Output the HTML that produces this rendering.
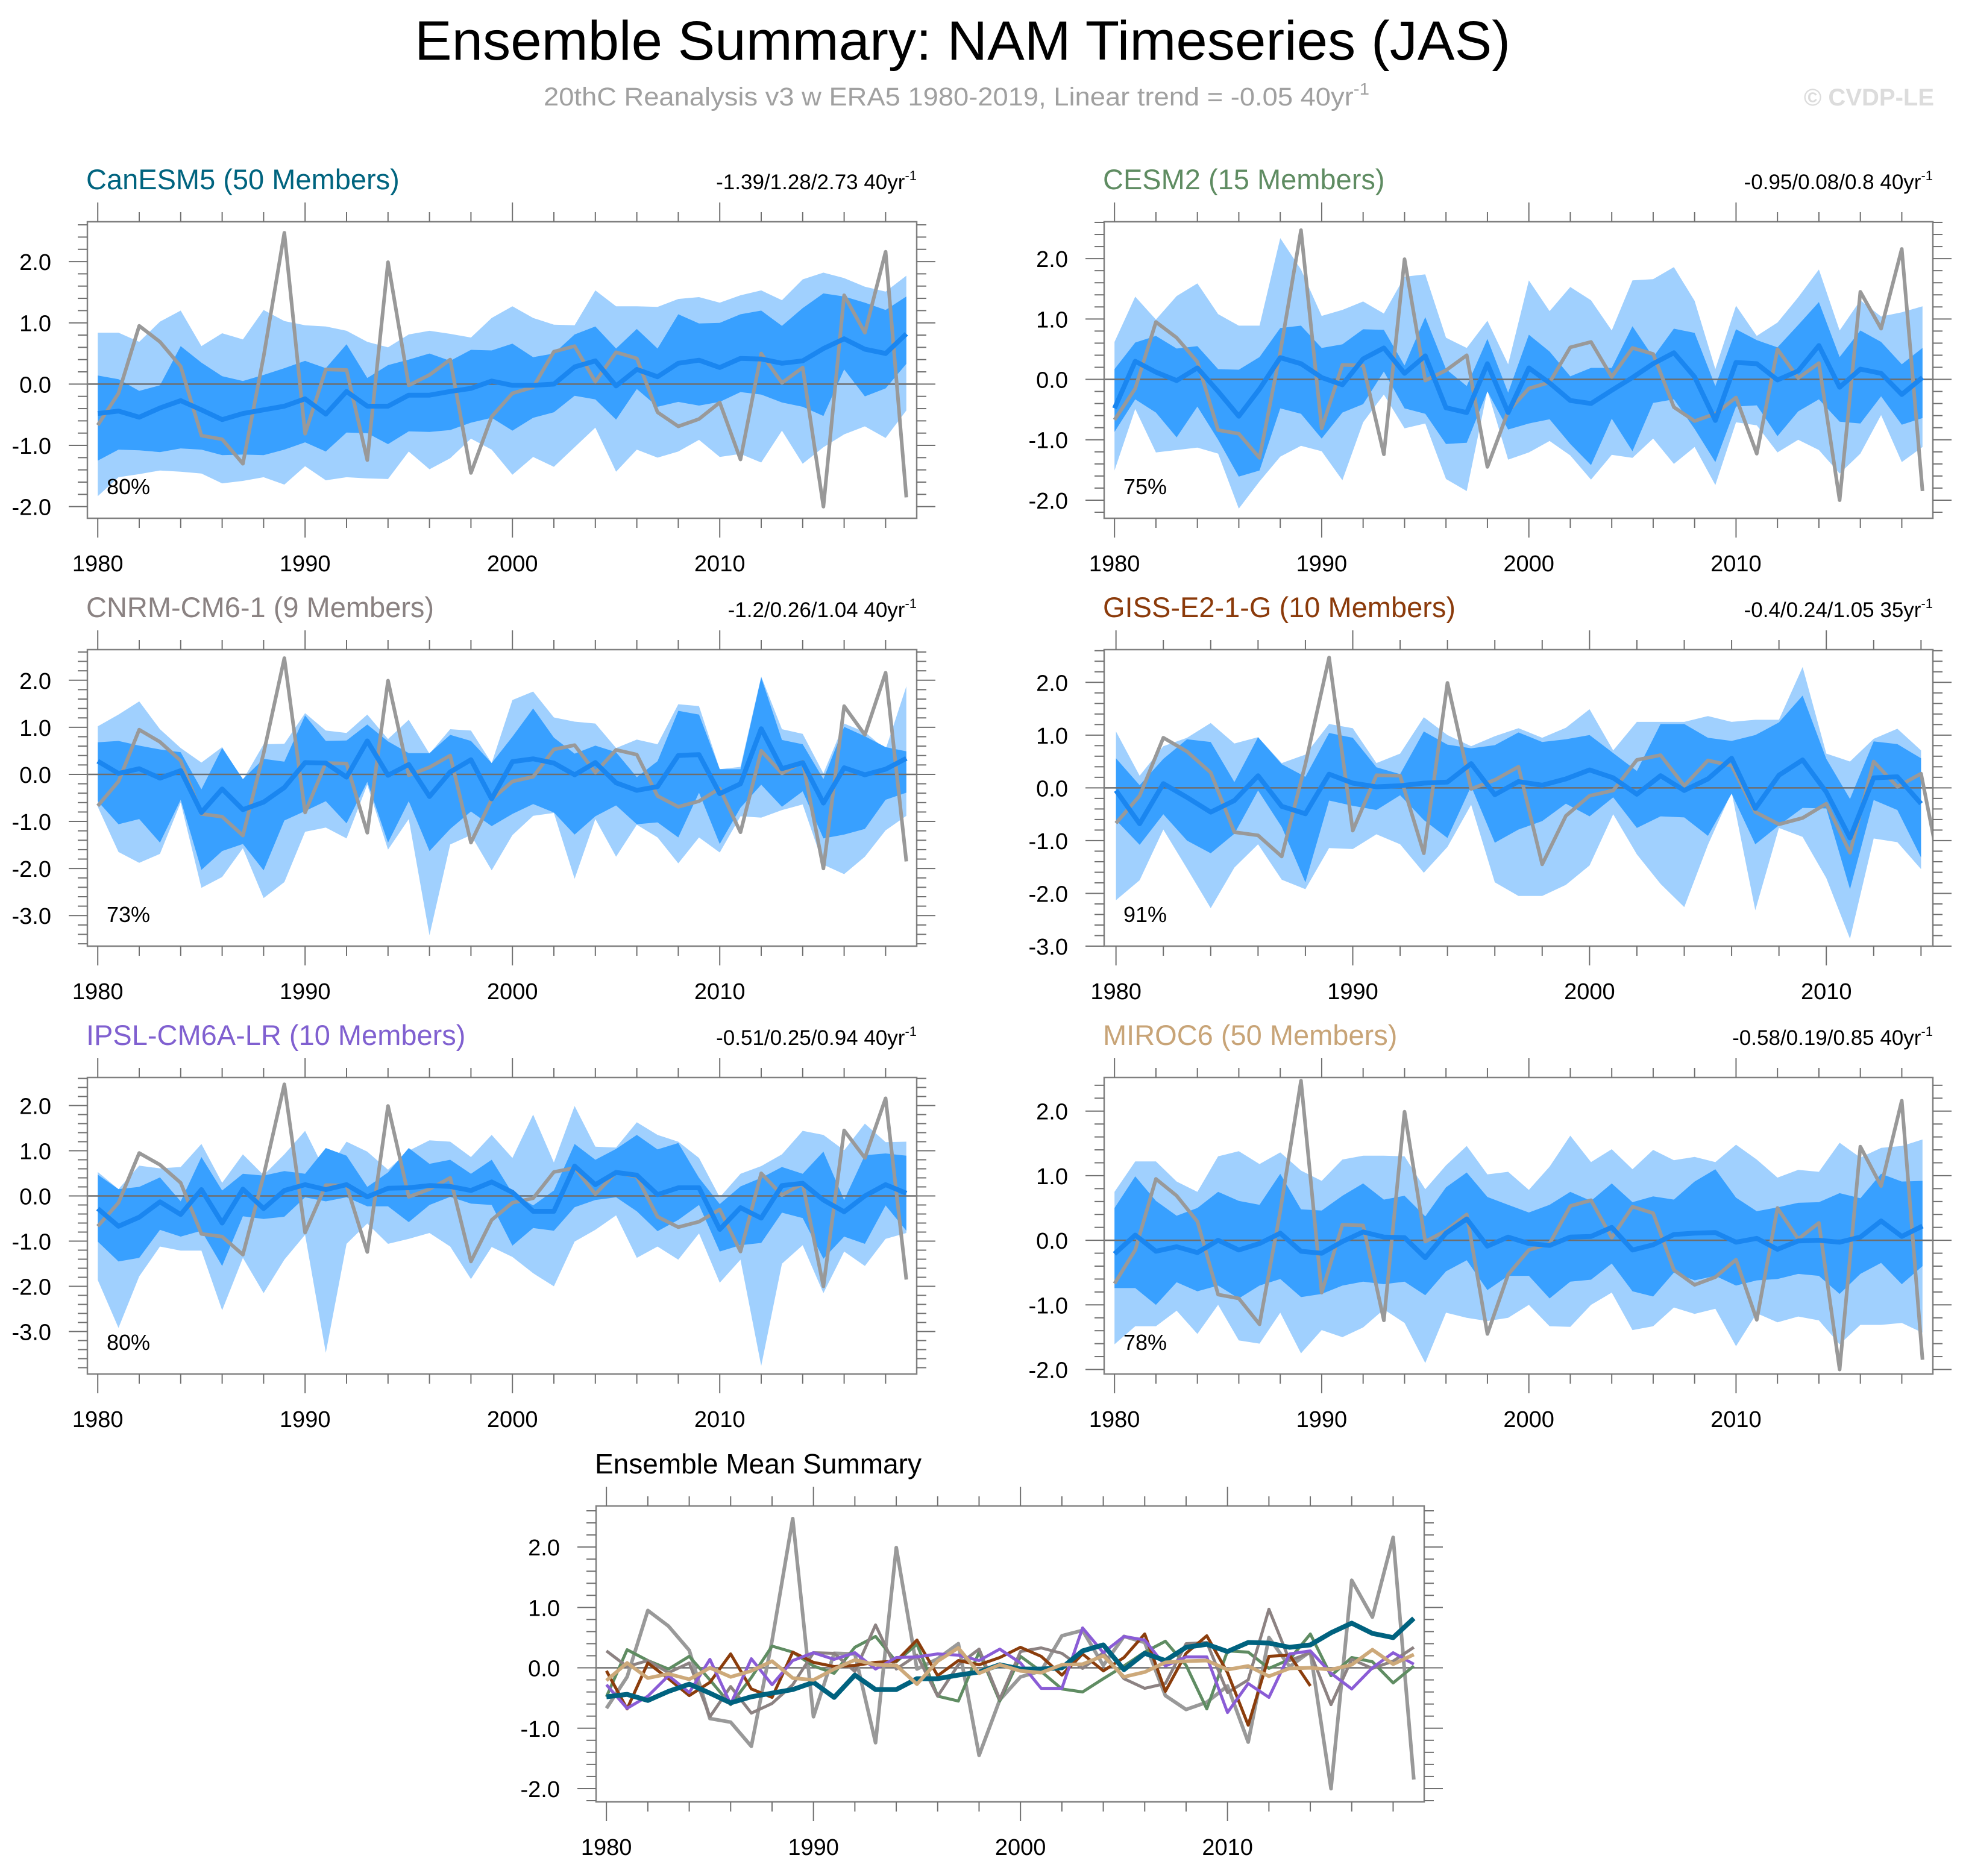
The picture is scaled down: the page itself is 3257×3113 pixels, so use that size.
<!DOCTYPE html>
<html><head><meta charset="utf-8"><style>
html,body{margin:0;padding:0;background:#fff;}
svg{display:block;font-family:"Liberation Sans",sans-serif;}
</style></head><body>
<svg id="chart" width="3257" height="3113" viewBox="0 0 3257 3113" xmlns="http://www.w3.org/2000/svg">
<text x="1597" y="99" font-size="92" text-anchor="middle" textLength="1818" lengthAdjust="spacingAndGlyphs" fill="#000">Ensemble Summary: NAM Timeseries (JAS)</text>
<text x="902" y="175" font-size="43" fill="#a0a0a0" textLength="1370" lengthAdjust="spacingAndGlyphs">20thC Reanalysis v3 w ERA5 1980-2019, Linear trend = -0.05 40yr<tspan dy="-18" font-size="28">-1</tspan></text>
<text x="3209" y="175" font-size="40" font-weight="bold" fill="#dcdcdc" text-anchor="end">© CVDP-LE</text>
<g id="panels"></g>
</svg>
<script>
const years = [1980,1981,1982,1983,1984,1985,1986,1987,1988,1989,1990,1991,1992,1993,1994,1995,1996,1997,1998,1999,2000,2001,2002,2003,2004,2005,2006,2007,2008,2009,2010,2011,2012,2013,2014,2015,2016,2017,2018,2019];
const obs = [-0.67,-0.15,0.95,0.69,0.29,-0.84,-0.90,-1.30,0.45,2.47,-0.81,0.24,0.23,-1.24,1.99,-0.02,0.15,0.40,-1.45,-0.53,-0.15,-0.05,0.53,0.62,0.04,0.52,0.42,-0.46,-0.69,-0.57,-0.30,-1.23,0.50,0.02,0.27,-2.00,1.45,0.84,2.16,-1.85];

const canesmMean = [-0.48,-0.44,-0.54,-0.39,-0.27,-0.42,-0.58,-0.48,-0.42,-0.36,-0.24,-0.49,-0.12,-0.36,-0.36,-0.18,-0.18,-0.12,-0.07,0.05,-0.02,-0.02,0.00,0.28,0.38,-0.03,0.24,0.12,0.34,0.39,0.27,0.42,0.41,0.34,0.38,0.58,0.74,0.57,0.50,0.82];
const canesmInHi = [0.14,0.08,-0.11,-0.02,0.62,0.35,0.13,0.05,0.15,0.26,0.38,0.26,0.65,0.10,0.31,0.40,0.50,0.38,0.56,0.55,0.66,0.44,0.50,0.81,0.94,0.58,0.90,0.58,1.14,0.99,1.00,1.14,1.20,0.95,1.24,1.48,1.43,1.33,1.21,1.43];
const canesmInLo = [-1.25,-1.07,-1.08,-1.11,-1.05,-1.07,-1.16,-1.15,-1.16,-1.07,-0.95,-1.10,-0.79,-0.80,-0.98,-0.77,-0.78,-0.75,-0.63,-0.55,-0.76,-0.55,-0.46,-0.19,-0.25,-0.58,-0.08,-0.37,-0.29,-0.35,-0.29,-0.13,-0.17,-0.30,-0.37,-0.52,0.24,-0.20,-0.07,0.33];
const canesmOutHi = [0.84,0.84,0.69,1.02,1.20,0.62,0.83,0.73,1.21,1.03,0.96,0.94,0.87,0.69,0.60,0.81,0.87,0.82,0.76,1.08,1.27,1.08,0.97,0.96,1.53,1.27,1.27,1.26,1.39,1.42,1.33,1.45,1.53,1.37,1.71,1.82,1.73,1.59,1.51,1.77];
const canesmOutLo = [-1.83,-1.52,-1.47,-1.41,-1.43,-1.46,-1.62,-1.58,-1.52,-1.64,-1.34,-1.57,-1.52,-1.54,-1.55,-1.10,-1.39,-1.21,-0.89,-1.07,-1.48,-1.19,-1.35,-1.03,-0.71,-1.43,-1.07,-1.20,-1.10,-0.91,-1.19,-1.14,-1.28,-0.76,-1.30,-1.03,-0.82,-0.69,-0.88,-0.43];

const cesmMean = [-0.48,0.30,0.12,-0.02,0.19,-0.20,-0.61,-0.16,0.36,0.26,0.03,-0.09,0.34,0.52,0.10,0.39,-0.47,-0.55,0.26,-0.55,0.19,-0.06,-0.35,-0.40,-0.18,0.03,0.26,0.44,0.04,-0.68,0.28,0.26,-0.01,0.14,0.56,-0.13,0.17,0.10,-0.25,0.03];
const cesmInHi = [0.17,0.61,0.72,0.51,0.55,0.17,0.16,0.37,0.85,0.89,0.52,0.58,0.83,0.82,0.23,1.03,0.17,-0.11,0.67,-0.22,0.74,0.46,0.05,0.19,0.19,0.88,0.37,0.84,0.77,-0.11,0.83,0.65,0.53,0.90,1.28,0.37,0.81,0.62,0.25,0.52];
const cesmInLo = [-0.87,-0.33,-0.55,-0.96,-0.45,-1.00,-1.61,-1.51,-0.48,-0.57,-0.98,-0.55,-0.41,0.13,-0.48,-0.57,-1.07,-1.05,-0.20,-0.83,-0.73,-0.66,-1.07,-1.42,-0.65,-1.19,-0.39,-0.33,-0.82,-1.37,-0.45,-0.43,-0.94,-0.53,-0.33,-0.70,-0.73,-0.28,-0.75,-0.64];
const cesmOutHi = [0.62,1.37,0.99,1.38,1.59,1.08,0.89,0.89,2.34,1.82,1.05,1.15,1.29,1.09,1.70,1.74,0.69,0.52,0.97,0.25,1.64,1.13,1.53,1.31,0.81,1.64,1.66,1.86,1.30,0.17,1.22,0.72,0.94,1.36,1.82,0.81,1.31,1.04,1.11,1.21];
const cesmOutLo = [-1.51,-0.49,-1.21,-1.17,-1.13,-1.23,-2.14,-1.69,-1.28,-1.10,-1.19,-1.67,-0.71,-0.25,-0.81,-0.73,-1.65,-1.85,-0.18,-1.33,-1.21,-1.02,-1.26,-1.66,-1.25,-1.30,-0.98,-1.40,-1.12,-1.75,-0.71,-0.76,-1.21,-1.00,-1.17,-1.56,-1.23,-0.59,-1.37,-1.12];

const cnrmMean = [0.28,0.02,0.12,-0.08,0.08,-0.81,-0.31,-0.75,-0.59,-0.28,0.25,0.24,-0.06,0.71,-0.02,0.21,-0.47,0.05,0.31,-0.52,0.27,0.33,0.24,-0.01,0.25,-0.18,-0.34,-0.26,0.40,0.42,-0.41,-0.20,0.97,0.12,0.25,-0.61,0.14,-0.01,0.11,0.34];
const cnrmInHi = [0.68,0.71,0.61,0.53,0.47,-0.32,0.56,-0.10,0.33,0.27,1.25,0.71,0.72,1.06,0.70,0.45,0.45,0.84,0.71,0.24,0.80,1.40,0.78,0.44,0.61,0.47,-0.06,0.28,1.35,1.27,0.11,0.11,2.06,0.73,0.64,-0.10,1.01,0.81,0.58,0.49];
const cnrmInLo = [-0.57,-1.06,-0.95,-1.45,-0.54,-2.03,-1.63,-1.48,-2.04,-0.98,-0.78,-0.57,-1.04,-0.16,-1.45,-0.57,-1.63,-1.16,-0.79,-1.10,-0.84,-0.63,-0.81,-1.28,-0.89,-0.66,-1.06,-1.02,-1.34,-0.39,-1.48,-0.71,-0.22,-0.69,-0.36,-1.36,-1.28,-1.16,-0.54,-0.39];
const cnrmOutHi = [1.02,1.27,1.55,0.96,0.56,0.25,0.58,-0.12,0.64,0.65,1.30,0.93,0.88,1.27,0.75,1.16,0.44,0.96,0.93,0.24,1.58,1.76,1.21,1.12,1.08,0.56,0.74,0.64,1.49,1.45,0.11,0.16,2.08,0.96,0.86,0.02,1.08,0.90,0.53,1.87];
const cnrmOutLo = [-0.69,-1.65,-1.88,-1.69,-0.60,-2.41,-2.18,-1.57,-2.63,-2.29,-1.22,-1.13,-1.36,-0.22,-1.60,-0.95,-3.42,-1.49,-1.29,-2.04,-1.29,-0.88,-0.82,-2.22,-0.95,-1.75,-1.07,-1.34,-1.89,-1.34,-1.66,-0.89,-0.92,-0.76,-0.64,-1.92,-2.12,-1.75,-1.19,-0.88];

const gissYears = [1980,1981,1982,1983,1984,1985,1986,1987,1988,1989,1990,1991,1992,1993,1994,1995,1996,1997,1998,1999,2000,2001,2002,2003,2004,2005,2006,2007,2008,2009,2010,2011,2012,2013,2014];
const gissMean = [-0.05,-0.68,0.08,-0.18,-0.46,-0.24,0.23,-0.35,-0.49,0.26,0.09,0.02,0.04,0.09,0.11,0.46,-0.13,0.12,0.05,0.17,0.34,0.19,-0.12,0.23,-0.05,0.17,0.56,-0.39,0.24,0.53,-0.08,-0.95,0.19,0.21,-0.30];
const gissInHi = [0.56,0.05,0.55,0.92,0.87,0.11,0.96,0.45,0.21,1.04,0.95,0.39,0.26,1.07,0.82,0.75,0.81,1.05,0.87,0.92,1.00,0.66,0.32,1.21,1.21,0.95,0.89,1.00,1.24,1.75,0.55,-0.21,0.88,0.83,0.56];
const gissInLo = [-0.61,-1.08,-0.50,-1.00,-1.24,-0.87,-0.05,-0.74,-1.79,-0.24,-0.34,-0.42,-0.14,-0.61,-0.95,0.03,-1.04,-0.79,-0.63,-0.30,-0.54,-0.18,-0.76,-0.54,-0.56,-0.91,-0.11,-1.07,-0.71,-0.38,-0.39,-1.92,-0.23,-0.42,-1.32];
const gissOutHi = [1.07,0.23,0.79,0.95,1.23,0.84,0.96,0.47,0.63,1.21,1.13,0.47,0.65,1.34,1.00,0.79,0.98,1.13,0.95,1.14,1.49,0.71,1.25,1.25,1.25,1.36,1.25,1.29,1.29,2.29,0.65,0.50,0.93,1.12,0.71];
const gissOutLo = [-2.13,-1.75,-0.79,-1.53,-2.28,-1.51,-1.07,-1.74,-1.92,-1.14,-1.16,-0.88,-1.07,-1.61,-1.12,-0.32,-1.79,-2.05,-2.05,-1.84,-1.47,-0.50,-1.26,-1.82,-2.26,-1.08,-0.08,-2.32,-0.76,-0.93,-1.71,-2.86,-0.96,-1.03,-1.54];

const ipslMean = [-0.28,-0.67,-0.47,-0.13,-0.41,0.14,-0.60,0.15,-0.28,0.12,0.25,0.14,0.25,-0.02,0.17,0.18,0.23,0.21,0.12,0.31,0.08,-0.34,-0.34,0.66,0.25,0.52,0.46,0.03,0.18,0.18,-0.74,-0.26,-0.49,0.23,0.28,-0.09,-0.35,0.00,0.25,0.06];
const ipslInHi = [0.47,0.15,0.20,0.41,-0.12,0.86,0.12,0.49,0.45,0.55,0.49,1.06,0.89,0.20,0.52,1.06,0.71,0.80,0.49,0.80,0.06,-0.21,0.12,1.15,0.80,1.04,1.35,1.03,1.17,0.40,-0.18,0.21,0.40,0.64,0.49,0.98,-0.09,0.90,0.94,0.89];
const ipslInLo = [-1.01,-1.45,-1.37,-0.75,-0.90,-0.77,-1.55,-0.45,-0.51,-0.46,-0.03,-0.12,-0.03,-0.23,-0.23,-0.58,-0.20,-0.02,-0.17,-0.20,-1.10,-0.71,-0.77,-0.25,-0.09,-0.03,-0.34,-0.78,-0.53,-0.20,-1.23,-1.09,-1.04,-0.37,-0.49,-1.39,-0.90,-1.06,-0.21,-0.77];
const ipslOutHi = [0.53,0.15,0.67,0.61,0.64,1.15,0.29,0.92,0.46,0.92,1.44,0.52,1.20,0.98,0.58,1.00,1.23,1.20,0.86,1.35,0.84,1.80,0.74,1.99,1.09,1.07,1.63,1.35,1.20,0.84,-0.03,0.49,0.66,0.92,1.44,1.35,1.01,1.60,1.19,1.20];
const ipslOutLo = [-1.86,-2.92,-1.78,-1.12,-1.21,-1.21,-2.53,-1.37,-2.15,-1.41,-0.86,-3.47,-1.06,-0.61,-1.06,-0.95,-0.82,-1.12,-1.84,-1.13,-1.35,-1.71,-2.00,-1.01,-0.75,-0.43,-1.37,-1.12,-1.41,-0.83,-1.92,-1.41,-3.76,-1.50,-1.09,-2.15,-1.23,-1.55,-0.95,-0.82];

const mirocMean = [-0.21,0.08,-0.17,-0.10,-0.19,0.00,-0.15,-0.05,0.11,-0.17,-0.20,-0.02,0.13,0.05,0.04,-0.27,0.11,0.33,-0.09,0.05,-0.05,-0.08,0.05,0.06,0.20,-0.15,-0.07,0.09,0.11,0.12,-0.03,0.03,-0.14,-0.01,0.00,-0.03,0.05,0.30,0.06,0.22];
const mirocInHi = [0.50,0.99,0.61,0.38,0.50,0.75,0.61,0.55,1.03,0.48,0.46,0.69,0.88,0.63,0.69,0.37,0.82,1.05,0.67,0.55,0.43,0.55,0.75,0.61,0.88,0.59,0.68,0.63,0.91,1.10,0.66,0.45,0.51,0.58,0.59,0.73,0.65,1.03,0.91,0.92];
const mirocInLo = [-0.74,-0.74,-1.00,-0.65,-0.79,-0.70,-0.90,-0.70,-0.60,-0.88,-0.83,-0.70,-0.64,-0.68,-0.64,-0.85,-0.48,-0.31,-0.77,-0.55,-0.55,-0.90,-0.64,-0.61,-0.36,-0.79,-0.87,-0.50,-0.62,-0.55,-0.70,-0.62,-0.60,-0.52,-0.55,-0.83,-0.52,-0.35,-0.68,-0.40];
const mirocOutHi = [0.75,1.22,1.22,0.91,0.75,1.30,1.38,1.18,1.36,1.08,0.92,1.25,1.31,1.31,1.30,0.79,1.16,1.46,1.02,1.06,0.78,1.14,1.62,1.21,1.41,1.10,1.40,1.24,1.29,1.21,1.48,1.25,0.97,1.09,1.06,1.51,1.28,1.43,1.46,1.56];
const mirocOutLo = [-1.61,-1.33,-1.33,-1.09,-1.45,-1.00,-1.55,-1.60,-1.12,-1.75,-1.39,-1.50,-1.35,-1.07,-1.28,-1.90,-1.12,-1.20,-1.25,-1.20,-1.00,-1.33,-1.34,-1.00,-0.81,-1.39,-1.33,-1.04,-1.14,-1.06,-1.64,-1.13,-1.27,-1.18,-1.24,-1.61,-1.31,-1.31,-1.28,-1.43];

const yTickLabels2 = ["2.0","1.0","0.0","-1.0","-2.0"];
const yTickLabels3 = ["2.0","1.0","0.0","-1.0","-2.0","-3.0"];
const xTickLabels = ["1980","1990","2000","2010"];

const NS = "http://www.w3.org/2000/svg";
const root = document.getElementById("panels");
function mk(tag, attrs, parent){
  const e = document.createElementNS(NS, tag);
  for (const k in attrs) e.setAttribute(k, attrs[k]);
  (parent||root).appendChild(e);
  return e;
}

function drawPanel(p){
  const g = mk("g", {});
  
  
  const X = v => p.x0 + (v - p.xMin) / (p.xMax - p.xMin) * (p.x1 - p.x0);
  const Y = v => p.y1 - (v - p.yMin) / (p.yMax - p.yMin) * (p.y1 - p.y0);
  const clipId = "clip-" + p.id;
  const cp = mk("clipPath", {id: clipId}, g);
  mk("rect", {x:p.x0, y:p.y0, width:p.x1-p.x0, height:p.y1-p.y0}, cp);
  const plot = mk("g", {"clip-path":"url(#"+clipId+")"}, g);

  function band(hi, lo, yrs, color, name){
    let d = "";
    yrs.forEach((yr,i)=>{ d += (i?"L":"M") + X(yr).toFixed(1) + "," + Y(hi[i]).toFixed(1); });
    for (let i = yrs.length-1; i >= 0; i--) d += "L" + X(yrs[i]).toFixed(1) + "," + Y(lo[i]).toFixed(1);
    const el = mk("path", {d: d + "Z", fill: color}, plot);
    
    
  }
  function line(vals, yrs, color, w, name){
    let d = "";
    yrs.forEach((yr,i)=>{ d += (i?"L":"M") + X(yr).toFixed(1) + "," + Y(vals[i]).toFixed(1); });
    const el = mk("path", {d: d, fill:"none", stroke: color, "stroke-width": w, "stroke-linejoin":"round"}, plot);
    
    
  }

  if (p.bands){
    band(p.outHi, p.outLo, p.yrs, "#a0d0fe", "outer-spread-band");
    band(p.inHi, p.inLo, p.yrs, "#38a0ff", "inner-spread-band");
  }
  const zl = mk("line", {x1:p.x0, x2:p.x1, y1:Y(0), y2:Y(0), stroke:"#6e6e6e", "stroke-width":2.5}, plot);
  
  

  if (p.bands){
    line(obs, years, "#999999", 6, "observed-nam-line");
    line(p.mean, p.yrs, "#1a86f0", 8, "ensemble-mean-line");
  } else {
    p.series.forEach(s => line(s.vals, s.yrs, s.color, s.w, s.name));
  }

  const bx = mk("rect", {x:p.x0, y:p.y0, width:p.x1-p.x0, height:p.y1-p.y0, fill:"none", stroke:"#808080", "stroke-width":2.5}, g);
  
  

  for (let yr = 1980; yr <= p.xMax; yr += 2){
    const major = (yr % 10 === 0);
    const len = major ? 32 : 16;
    const xx = X(yr);
    mk("line", {x1:xx, x2:xx, y1:p.y0, y2:p.y0-len, stroke:"#707070", "stroke-width":2}, g);
    mk("line", {x1:xx, x2:xx, y1:p.y1, y2:p.y1+len, stroke:"#707070", "stroke-width":2}, g);
  }
  xTickLabels.forEach(lbl => {
    const t = mk("text", {x:X(+lbl), y:p.y1+88, "font-size":38, "text-anchor":"middle", fill:"#000"}, g);
    t.textContent = lbl;
    
    
  });
  const start = Math.ceil(p.yMin/0.2 - 1e-6);
  const end = Math.floor(p.yMax/0.2 + 1e-6);
  for (let k = start; k <= end; k++){
    const v = k*0.2;
    const major = (k % 5 === 0);
    const len = major ? 31 : 16;
    const yy = Y(v);
    mk("line", {x1:p.x0, x2:p.x0-len, y1:yy, y2:yy, stroke:"#707070", "stroke-width":2}, g);
    mk("line", {x1:p.x1, x2:p.x1+len, y1:yy, y2:yy, stroke:"#707070", "stroke-width":2}, g);
  }
  p.yLabels.forEach(lbl => {
    const t = mk("text", {x:p.x0-60, y:Y(+lbl)+14, "font-size":38, "text-anchor":"end", fill:"#000"}, g);
    t.textContent = lbl;
    
    
  });
  const tt = mk("text", {x:p.x0-2, y:p.y0-54, "font-size":p.titleSize||47, fill:p.titleColor}, g);
  tt.textContent = p.title;
  
  
  if (p.trend){
    const tr = mk("text", {x:p.x1, y:p.y0-54, "font-size":35, "text-anchor":"end", fill:"#000"}, g);
    tr.textContent = p.trend;
    const sp = mk("tspan", {dy:-15, "font-size":22}, tr);
    sp.textContent = "-1";
    
    
  }
  if (p.pct){
    const pt = mk("text", {x:p.x0+32, y:p.y1-40, "font-size":36, fill:"#000"}, g);
    pt.textContent = p.pct;
    
    
  }
}

const L = {x0:145, x1:1521}, R = {x0:1832, x1:3207};
const rows = [{y0:368,y1:860},{y0:1078,y1:1570},{y0:1788,y1:2280}];

drawPanel({id:"canesm5", ...L, ...rows[0], xMin:1979.5, xMax:2019.5, yMin:-2.19, yMax:2.65, yLabels:yTickLabels2,
  title:"CanESM5 (50 Members)", titleColor:"#00647f", trend:"-1.39/1.28/2.73 40yr", pct:"80%", bands:true,
  yrs:years, mean:canesmMean, inHi:canesmInHi, inLo:canesmInLo, outHi:canesmOutHi, outLo:canesmOutLo});
drawPanel({id:"cesm2", ...R, ...rows[0], xMin:1979.5, xMax:2019.5, yMin:-2.30, yMax:2.61, yLabels:yTickLabels2,
  title:"CESM2 (15 Members)", titleColor:"#5f8c62", trend:"-0.95/0.08/0.8 40yr", pct:"75%", bands:true,
  yrs:years, mean:cesmMean, inHi:cesmInHi, inLo:cesmInLo, outHi:cesmOutHi, outLo:cesmOutLo});
drawPanel({id:"cnrm", ...L, ...rows[1], xMin:1979.5, xMax:2019.5, yMin:-3.65, yMax:2.65, yLabels:yTickLabels3,
  title:"CNRM-CM6-1 (9 Members)", titleColor:"#8a8282", trend:"-1.2/0.26/1.04 40yr", pct:"73%", bands:true,
  yrs:years, mean:cnrmMean, inHi:cnrmInHi, inLo:cnrmInLo, outHi:cnrmOutHi, outLo:cnrmOutLo});
drawPanel({id:"giss", ...R, ...rows[1], xMin:1979.5, xMax:2014.5, yMin:-3.0, yMax:2.62, yLabels:yTickLabels3,
  title:"GISS-E2-1-G (10 Members)", titleColor:"#8b3a0a", trend:"-0.4/0.24/1.05 35yr", pct:"91%", bands:true,
  yrs:gissYears, mean:gissMean, inHi:gissInHi, inLo:gissInLo, outHi:gissOutHi, outLo:gissOutLo});
drawPanel({id:"ipsl", ...L, ...rows[2], xMin:1979.5, xMax:2019.5, yMin:-3.94, yMax:2.62, yLabels:yTickLabels3,
  title:"IPSL-CM6A-LR (10 Members)", titleColor:"#8060d0", trend:"-0.51/0.25/0.94 40yr", pct:"80%", bands:true,
  yrs:years, mean:ipslMean, inHi:ipslInHi, inLo:ipslInLo, outHi:ipslOutHi, outLo:ipslOutLo});
drawPanel({id:"miroc6", ...R, ...rows[2], xMin:1979.5, xMax:2019.5, yMin:-2.07, yMax:2.52, yLabels:yTickLabels2,
  title:"MIROC6 (50 Members)", titleColor:"#c8a477", trend:"-0.58/0.19/0.85 40yr", pct:"78%", bands:true,
  yrs:years, mean:mirocMean, inHi:mirocInHi, inLo:mirocInLo, outHi:mirocOutHi, outLo:mirocOutLo});

drawPanel({id:"ensemble-mean-summary", x0:989, x1:2363, y0:2499, y1:2990, xMin:1979.5, xMax:2019.5, yMin:-2.22, yMax:2.68,
  yLabels:yTickLabels2, title:"Ensemble Mean Summary", titleColor:"#000", titleSize:46, bands:false,
  series:[
    {vals:obs, yrs:years, color:"#999999", w:6, name:"observed-line"},
    {vals:cesmMean, yrs:years, color:"#5f8c62", w:5, name:"cesm2-mean-line"},
    {vals:cnrmMean, yrs:years, color:"#8c8282", w:5, name:"cnrm-mean-line"},
    {vals:gissMean, yrs:gissYears, color:"#8b3d0c", w:5, name:"giss-mean-line"},
    {vals:ipslMean, yrs:years, color:"#8a5cd6", w:5, name:"ipsl-mean-line"},
    {vals:canesmMean, yrs:years, color:"#00627f", w:8, name:"canesm5-mean-line"},
    {vals:mirocMean, yrs:years, color:"#cda97a", w:6, name:"miroc6-mean-line"}
  ]});
</script>
</body></html>
